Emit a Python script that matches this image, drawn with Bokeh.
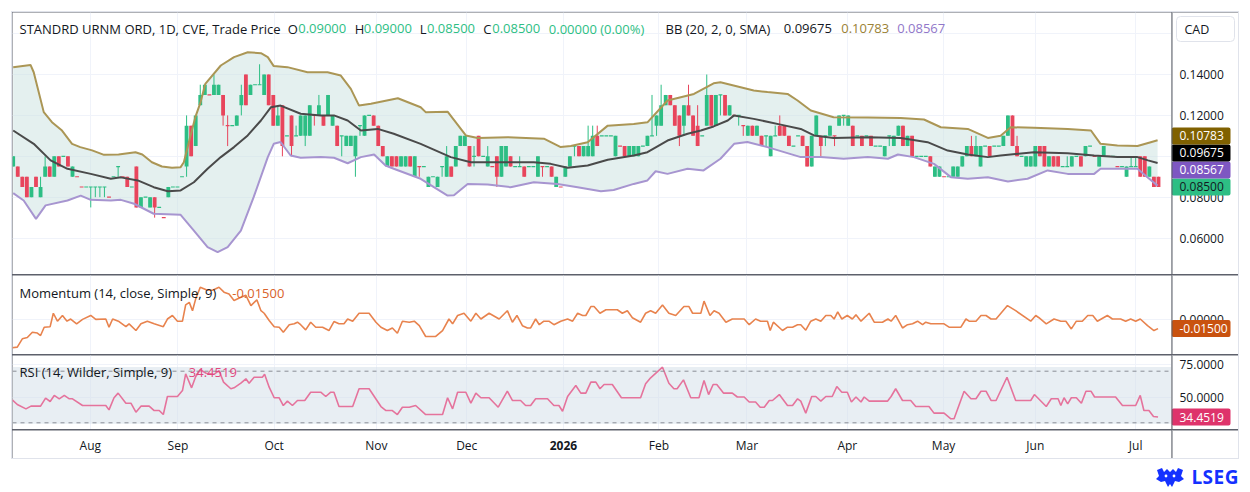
from bokeh.plotting import figure
from bokeh.models import (ColumnDataSource, FixedTicker, Label, Span, Grid, Div, BoxAnnotation, Range1d)
from bokeh.layouts import column, row
from bokeh.embed import file_html
from bokeh.resources import INLINE
from bokeh.core.properties import value

# ---------------- data ----------------
OPEN = [
.095,.095,.090,.090,.080,.090,.080,.090,.095,.090,
.100,.100,.100,.090,.090,.085,.085,.085,.085,.085,
.085,.080,.090,.095,.090,.090,.085,.095,.075,.080,
.075,.080,.075,.070,.080,.085,.085,.090,.095,.115,
.105,.125,.130,.130,.130,.130,.130,.115,.115,.115,
.125,.140,.130,.135,.135,.130,.140,.130,.115,.125,
.110,.120,.110,.110,.110,.110,.120,.120,.120,.120,
.115,.115,.110,.105,.105,.100,.115,.110,.120,.120,
.115,.105,.095,.100,.100,.095,.095,.100,.090,.095,
.095,.085,.090,.085,.095,.090,.095,.095,.105,.105,
.105,.100,.110,.100,.095,.095,.100,.090,.095,.100,
.095,.095,.095,.095,.095,.090,.095,.095,.095,.085,
.085,.090,.095,.105,.105,.100,.100,.100,.110,.110,
.110,.110,.100,.105,.105,.100,.100,.100,.105,.105,
.110,.115,.115,.125,.130,.125,.120,.115,.125,.120,
.115,.110,.115,.130,.115,.130,.130,.120,.120,.120,
.115,.110,.115,.110,.110,.110,.100,.110,.115,.115,
.110,.105,.110,.110,.105,.095,.110,.110,.110,.110,
.110,.115,.120,.115,.115,.110,.110,.110,.110,.105,
.105,.100,.110,.105,.110,.115,.105,.110,.100,.100,
.100,.100,.090,.090,.090,.090,.090,.090,.095,.100,
.105,.100,.095,.105,.105,.105,.105,.105,.110,.120,
.105,.100,.095,.095,.095,.105,.105,.095,.100,.100,
.095,.095,.095,.100,.100,.100,.105,.100,.095,.100,
.100,.100,.095,.095,.090,.095,.095,.100,.100,.090,
.090,.090]

HIGH = [
.100,.095,.090,.090,.085,.090,.090,.100,.095,.100,
.100,.100,.100,.095,.090,.085,.085,.085,.085,.085,
.085,.080,.090,.095,.090,.090,.085,.095,.080,.080,
.080,.080,.075,.070,.085,.085,.085,.090,.120,.115,
.120,.135,.135,.130,.140,.135,.130,.120,.115,.120,
.135,.140,.135,.135,.145,.140,.140,.130,.125,.125,
.110,.120,.115,.120,.120,.125,.120,.130,.120,.130,
.120,.115,.110,.110,.110,.110,.115,.120,.120,.120,
.115,.105,.100,.100,.100,.100,.100,.100,.100,.095,
.095,.090,.090,.090,.095,.105,.095,.105,.110,.110,
.105,.105,.110,.100,.105,.095,.100,.105,.105,.100,
.095,.100,.095,.095,.095,.100,.095,.095,.095,.090,
.085,.095,.100,.105,.105,.105,.115,.115,.115,.110,
.110,.110,.110,.105,.105,.105,.105,.105,.105,.110,
.130,.120,.135,.130,.130,.125,.120,.125,.135,.120,
.125,.110,.140,.130,.130,.130,.130,.125,.120,.120,
.115,.115,.115,.115,.110,.110,.110,.115,.120,.115,
.110,.105,.110,.110,.105,.110,.120,.110,.110,.115,
.110,.120,.120,.120,.115,.110,.110,.110,.110,.105,
.105,.105,.110,.110,.115,.115,.110,.110,.100,.100,
.100,.100,.095,.095,.090,.090,.095,.095,.100,.105,
.110,.110,.105,.105,.105,.105,.105,.110,.120,.120,
.110,.100,.100,.100,.105,.105,.105,.100,.100,.100,
.095,.100,.100,.100,.100,.105,.105,.100,.100,.105,
.100,.100,.095,.095,.095,.100,.100,.100,.100,.095,
.090,.090]

LOW = [
.095,.090,.085,.080,.080,.085,.080,.090,.090,.090,
.095,.100,.095,.090,.090,.085,.085,.075,.080,.080,
.080,.080,.090,.090,.090,.085,.085,.075,.075,.080,
.075,.070,.075,.070,.080,.085,.085,.090,.090,.100,
.105,.125,.130,.130,.130,.130,.115,.105,.115,.115,
.120,.125,.130,.135,.135,.130,.125,.115,.115,.100,
.110,.100,.110,.110,.105,.110,.115,.120,.115,.120,
.115,.105,.100,.105,.105,.090,.110,.110,.120,.115,
.105,.100,.095,.095,.095,.095,.095,.095,.090,.090,
.095,.085,.090,.085,.090,.090,.090,.095,.105,.105,
.095,.095,.100,.100,.095,.095,.085,.090,.095,.095,
.095,.095,.090,.095,.095,.090,.090,.095,.090,.085,
.085,.090,.095,.100,.100,.100,.100,.100,.105,.110,
.110,.110,.100,.105,.100,.100,.100,.100,.105,.105,
.110,.110,.115,.125,.125,.115,.105,.110,.120,.110,
.105,.110,.115,.115,.115,.120,.120,.120,.120,.115,
.110,.110,.110,.110,.105,.105,.100,.110,.110,.110,
.105,.105,.110,.105,.095,.095,.110,.100,.105,.110,
.105,.115,.115,.115,.105,.110,.105,.110,.105,.105,
.105,.100,.105,.105,.110,.105,.105,.100,.100,.100,
.100,.095,.090,.090,.090,.090,.090,.090,.095,.100,
.100,.100,.095,.105,.100,.105,.105,.105,.110,.105,
.100,.100,.095,.095,.095,.100,.095,.095,.095,.095,
.095,.095,.095,.100,.095,.100,.105,.100,.095,.100,
.100,.100,.095,.095,.090,.095,.095,.090,.090,.090,
.085,.085]

CLOSE = [
.100,.090,.085,.080,.085,.085,.085,.095,.090,.100,
.095,.100,.095,.095,.090,.085,.085,.085,.085,.085,
.085,.080,.090,.095,.090,.085,.085,.075,.080,.080,
.080,.075,.075,.070,.085,.085,.085,.090,.115,.100,
.120,.130,.135,.130,.135,.135,.120,.115,.115,.120,
.130,.125,.135,.135,.135,.140,.125,.115,.120,.105,
.110,.105,.110,.120,.120,.125,.120,.125,.115,.130,
.120,.105,.110,.110,.110,.110,.115,.120,.120,.115,
.105,.100,.100,.095,.095,.100,.100,.095,.100,.095,
.095,.090,.090,.090,.095,.100,.090,.105,.110,.110,
.095,.100,.100,.100,.100,.095,.090,.105,.105,.095,
.095,.095,.090,.095,.095,.100,.095,.095,.090,.090,
.085,.095,.100,.105,.100,.105,.105,.110,.105,.110,
.110,.110,.110,.105,.100,.105,.105,.105,.105,.110,
.110,.120,.125,.130,.125,.115,.110,.125,.120,.110,
.105,.110,.130,.115,.130,.130,.120,.125,.120,.120,
.115,.115,.110,.115,.105,.110,.110,.110,.110,.110,
.105,.105,.110,.105,.095,.110,.120,.105,.110,.115,
.110,.120,.120,.120,.105,.110,.105,.110,.105,.105,
.105,.105,.110,.110,.115,.105,.110,.100,.100,.100,
.100,.095,.095,.095,.090,.090,.095,.095,.100,.105,
.100,.105,.105,.105,.100,.105,.105,.110,.120,.105,
.100,.100,.100,.100,.105,.100,.095,.100,.095,.095,
.095,.095,.100,.100,.095,.105,.105,.100,.100,.105,
.100,.100,.095,.095,.095,.095,.095,.090,.090,.095,
.085,.085]

# Bollinger Bands (20, 2) read as (bar, value)
BB_UPPER = [(0,0.1436),(3.8,0.1447),(4.5,0.1411),(6.7,0.1216),(8.5,0.1167),(10.7,0.1126),
    (12.9,0.1061),(14.7,0.1045),(17.3,0.1029),(19.9,0.1007),(23.1,0.1009),(26.8,0.1020),
    (28.3,0.1009),(30.4,0.0971),(32.6,0.0950),(34.8,0.0944),(36.7,0.0947),(37.4,0.0971),
    (38.5,0.1069),(39.9,0.1190),(41,0.1260),(42.1,0.1354),(45.5,0.1444),(48.4,0.1485),
    (51.4,0.1509),(54.3,0.1504),(55.8,0.1485),(57.1,0.1441),(60.1,0.1436),(64.5,0.1411),
    (68.9,0.1411),(71.8,0.1395),(74,0.1330),(75.8,0.1248),(78.4,0.1257),(84.3,0.1284),
    (89.3,0.1240),(90.4,0.1216),(95.2,0.1218),(99.2,0.1102),(101.8,0.1090),(108.4,0.1093),
    (116.3,0.1086),(120,0.1045),(122.2,0.1050),(125.9,0.1069),(130.3,0.1150),(136,0.1158),
    (139,0.1166),(143.4,0.1273),(149.2,0.1305),(153.5,0.1357),(155,0.1362),(162.3,0.1322),
    (165.3,0.1314),(169.7,0.1305),(171.9,0.1273),(174.8,0.1224),(179.8,0.1191),(187.3,0.1190),
    (194.5,0.1187),(199.6,0.1180),(203.3,0.1142),(209.2,0.1134),(213.6,0.1090),(216.4,0.1101),
    (218.6,0.1142),(223.7,0.1140),(231.1,0.1134),(236.2,0.1126),(238.3,0.1061),(242,0.1053),
    (246.4,0.1050),(249.3,0.1069),(250.8,0.10783)]
BB_MID = [(0,0.1126),(4.5,0.1061),(8.2,0.0980),(11.9,0.0939),(17,0.0914),(21.4,0.0890),
    (23.6,0.0897),(27.3,0.0882),(30.8,0.0849),(33.9,0.0829),(36.7,0.0833),(39.6,0.0873),
    (42.6,0.0939),(45.5,0.0996),(48.4,0.1045),(51.4,0.1102),(54.3,0.1175),(56.5,0.1240),
    (58.6,0.1248),(63,0.1208),(67.4,0.1200),(70.3,0.1200),(73.3,0.1175),(76.2,0.1126),
    (79.9,0.1134),(83.4,0.1110),(89.3,0.1061),(95.9,0.0996),(100.3,0.0971),(105.3,0.0971),
    (114.1,0.0971),(117.8,0.0963),(121.5,0.0944),(125.9,0.0955),(130.3,0.0983),(136,0.1004),
    (139,0.1020),(143.4,0.1077),(147.8,0.1110),(150.7,0.1126),(153.5,0.1146),(156.6,0.1175),
    (158,0.1200),(162.3,0.1183),(168.2,0.1155),(172.6,0.1134),(175.5,0.1102),(179.8,0.1090),
    (187.3,0.1093),(194.5,0.1090),(200.4,0.1069),(204.8,0.1028),(209.2,0.1009),(213.6,0.0996),
    (216.4,0.1004),(223.7,0.1020),(231.1,0.1015),(236.9,0.1004),(242,0.0996),(246.4,0.0996),
    (248.7,0.0980),(250.8,0.09675)]
BB_LOWER = [(0,0.0820),(2.3,0.0784),(5,0.0694),(7.1,0.0760),(11.9,0.0784),(14.8,0.0808),
    (17,0.0787),(21.4,0.0784),(23.6,0.0787),(26.5,0.0768),(30.8,0.0719),(36.7,0.0714),
    (39.6,0.0637),(42.6,0.0556),(44.8,0.0531),(47,0.0556),(49.9,0.0637),(52.7,0.0800),
    (55.8,0.0996),(57.1,0.1061),(58.6,0.1070),(60.8,0.1004),(63,0.0993),(67.4,0.0996),
    (70.3,0.0993),(73.3,0.0966),(76.2,0.0996),(79.1,0.1009),(81.6,0.0955),(83.4,0.0939),
    (89.3,0.0890),(92.2,0.0849),(95.2,0.0808),(96.6,0.0810),(99.6,0.0865),(104,0.0862),
    (109,0.0849),(114.1,0.0873),(119.3,0.0865),(123.7,0.0849),(128.8,0.0829),(131.6,0.0835),
    (136,0.0865),(139,0.0882),(140.8,0.0927),(143.4,0.0914),(147.8,0.0939),(151.3,0.0931),
    (155,0.0988),(158,0.1061),(160.9,0.1070),(165.3,0.1045),(172.6,0.0996),(177,0.0996),
    (182,0.0988),(187.3,0.0996),(191.7,0.0988),(193.9,0.1009),(197.4,0.0996),(201.8,0.0963),
    (205.5,0.0898),(209.2,0.0890),(213.6,0.0898),(218,0.0877),(222.3,0.0890),(226.7,0.0931),
    (231.1,0.0914),(236.9,0.0914),(238.3,0.0939),(244.2,0.0939),(246.4,0.0939),(248.7,0.0895),
    (250.8,0.08567)]

# Momentum (14) read as (bar, value)
MOMENTUM = [(-0.2,-0.045),(0.9,-0.044),(2,-0.031),(3.1,-0.029),(4.2,-0.0206),(5.3,-0.022),
    (6,-0.0258),(6.8,-0.0128),(8.1,-0.012),(8.8,0.009),(9.7,-0.0034),(10.8,0.0055),(11.8,-0.0034),
    (12.6,0),(13.9,-0.0075),(15.2,-0.0006),(17,0.0055),(18.1,-0.0005),(20.3,0),(21,-0.0128),
    (21.8,0),(23.2,-0.004),(24.7,-0.012),(25.4,-0.0075),(26.9,-0.018),(28,-0.0075),(29.4,-0.0034),
    (30.9,-0.0075),(32.9,-0.012),(33.8,0),(34.9,0.0055),(36,-0.0034),(37.1,-0.0034),(37.8,0.022),
    (38.6,0.026),(39.3,0.013),(40,0.0315),(41,0.0497),(42.3,0.0456),(43.7,0.045),(45.1,0.0497),
    (46.2,0.042),(47.3,0.039),(48.4,0.029),(49.9,0.034),(51,0.037),(52.1,0.021),(53.4,0.030),
    (54.3,0.013),(55,0.009),(56.1,-0.0023),(57.2,-0.012),(58.3,-0.0128),(59.2,-0.0206),
    (60.5,-0.009),(61.6,-0.0075),(62.3,-0.005),(63,-0.0089),(64.1,-0.017),(65.2,-0.005),
    (66.3,-0.0128),(67.8,-0.0128),(69.2,-0.018),(70.3,-0.004),(71.4,-0.0075),(72.5,-0.0075),
    (73.3,0),(74.4,-0.0034),(75.8,0.009),(78,0.009),(79.5,-0.005),(80.6,-0.0128),(82,-0.018),
    (83.1,-0.014),(84.2,-0.0222),(85.3,-0.0034),(86.8,-0.005),(87.9,-0.0034),(89,-0.0104),
    (90.4,-0.0273),(92.6,-0.0273),(94.1,-0.018),(95.5,0),(96.3,-0.0075),(97.4,0.0055),
    (98.8,0.009),(100.3,-0.0034),(101.4,0.009),(102.5,0),(104.3,0.009),(106.5,0),(108.3,0.013),
    (109.4,-0.005),(110.4,0.0055),(111.6,-0.0104),(112.7,-0.014),(113.4,-0.014),(114.5,0),
    (115.3,-0.0089),(116.3,-0.0034),(117.4,-0.0034),(118.5,-0.0089),(120,-0.0034),(121.5,0),
    (122.6,-0.0034),(123.7,0.009),(124.8,0.0055),(125.5,0.0055),(126.6,0.0195),(127.3,0.0195),
    (128.6,0.009),(129.9,0.0145),(132.4,0.0145),(133.5,0.009),(134.6,0.013),(135.7,0.002),
    (137.5,-0.005),(138.6,0.009),(139.7,0.013),(140.8,0.009),(142.3,0.022),(143.7,0.009),
    (145.2,0.0055),(147,0.0195),(148.1,0.0195),(148.9,0.009),(150.7,0.009),(151.4,0.028),
    (152.7,0.0055),(153.6,0.013),(154.7,0.009),(156.2,-0.005),(157.6,0),(160.2,0),(161.3,-0.0089),
    (162.7,0),(163.8,-0.0034),(165.3,-0.0034),(165.9,-0.018),(166.6,-0.005),(168.6,-0.018),
    (169.7,-0.0128),(170.8,-0.0128),(171.9,-0.0089),(172.6,-0.0089),(173.7,-0.0175),
    (174.8,-0.0034),(175.9,0),(177,-0.0034),(178.1,0.0055),(179.2,0.0055),(179.9,0),(180.7,0.011),
    (181.6,0),(182.8,0.0055),(183.9,0),(184.7,0.0065),(185.8,-0.0034),(187.6,0.009),(188.7,-0.005),
    (190.5,-0.005),(191.7,0),(192.4,-0.0034),(193.4,0.0055),(194.9,-0.014),(196,-0.0089),
    (197.1,-0.0075),(198.2,-0.0034),(199.3,-0.0089),(200,-0.005),(201.1,-0.0075),(204,-0.0075),
    (205.1,-0.0128),(207.7,-0.0128),(208.8,0),(209.5,-0.0034),(211,-0.0034),(212.1,0.0055),
    (213.2,0.0055),(214.3,0),(215.4,0),(217.9,0.021),(219.7,0.013),(223,-0.0034),(224.1,0.0055),
    (224.8,0.002),(226.4,-0.0075),(228.1,0),(229.6,-0.0034),(230.7,-0.0034),(231.9,-0.0155),
    (233,-0.0034),(234.3,-0.0034),(235.5,0.0055),(236.6,0.0055),(237.6,-0.0034),(239.8,0.0055),
    (240.9,0),(242.7,0),(243.8,-0.0034),(244.9,0),(246,-0.0034),(247,0),(248.6,-0.0104),
    (250,-0.018),(250.9,-0.015)]

# RSI (14) read as (bar, value)
RSI = [(-0.2,47.8),(0.9,44.2),(2.8,40.8),(3.9,42.9),(6,42.9),(7.1,49.1),(8.1,46.5),(9,51.2),
    (10.1,48.6),(11.2,51.2),(12.3,48.6),(13,48.6),(15.2,43.4),(20.3,43.4),(21,40),(22.1,49.4),
    (23,53),(24.7,45.2),(25.8,45.2),(26.9,38.2),(28,42.9),(29.8,42.9),(30.9,39.5),(32,39.5),
    (32.9,36.4),(33.8,50.4),(36,50.4),(37.1,55),(37.8,68),(39.1,57.1),(40,65.9),(41,71.1),
    (42.3,68.4),(44,67.6),(45.1,70.5),(46.1,61.5),(47.7,56.4),(48.4,57.1),(49.9,60.7),(51,64.1),
    (51.7,60.7),(52.8,65.3),(54.6,65.3),(55.1,67.6),(56.1,57.6),(57.2,49.4),(58.3,49.4),
    (59.2,43.4),(60.1,46.8),(61.2,43.4),(62.3,47.3),(63.9,47.3),(65.2,53.7),(67.4,53.7),
    (68.5,50.4),(69.6,53.7),(70.3,53.7),(71.4,42.6),(74.4,42.6),(75.8,56.4),(78,56.4),(80.6,42.6),
    (81.7,39.5),(83.1,39.5),(84.2,36.4),(85.3,42.1),(86.8,42.1),(88.2,43.4),(90.4,36.4),
    (94.1,36.4),(95.2,49.4),(96.3,40.8),(97.4,53.7),(99.2,53.7),(100.3,45.2),(101.4,53),
    (102.5,49.4),(104.3,49.4),(106.3,42.1),(108.3,54.5),(109.4,47.3),(111.2,47.3),(112.3,43.4),
    (113.4,43.4),(114.5,48.6),(117.1,48.6),(118.5,43.4),(119.6,43.4),(120.4,39),(121.5,50.4),
    (123.3,58.9),(124.4,53),(125.5,53),(126.6,61.5),(127.7,61.5),(128.6,56.4),(129.5,59.7),
    (131.3,59.7),(133.3,49.4),(137.5,49.4),(138.6,60.2),(139.7,64.9),(142.3,73.1),(143.7,60.7),
    (144.8,56.4),(145.5,56.4),(146.9,63.3),(148.5,49.4),(150.3,49.4),(151.4,62.8),(152.4,51.9),
    (153.4,59.7),(154.2,59.7),(155.7,53),(157.6,53),(158.7,50),(160.2,50),(161.3,46.1),
    (162.7,46.1),(163.7,42.1),(164.6,42.1),(165.7,47.3),(166.4,47.3),(167.9,51.9),(169.7,43.4),
    (170.8,43.4),(171.9,48.6),(172.6,46.8),(173.7,37.5),(175,50.4),(175.9,50.4),(177,46.8),
    (178.1,50.4),(179.5,50.4),(180.5,58.1),(181.6,53.7),(182.8,53.7),(183.7,46.1),(184.7,50),
    (185.8,46.1),(186.5,50),(187.6,46.8),(191.6,46.8),(192.4,50.4),(193.4,56.4),(194.9,47.3),
    (196.7,47.3),(197.8,42.6),(200.7,42.6),(201.8,37.5),(204,37.5),(205.5,33.1),(206.2,33.1),
    (208.4,54.5),(209.9,48.6),(211,48.6),(212.1,54.5),(213.2,54.5),(214.3,47.3),(215.4,47.3),
    (217.8,65.3),(219.7,47.3),(223,47.3),(223.8,51.9),(226.4,42.6),(227.5,48.6),(229,48.6),
    (229.6,43.4),(230.3,49.4),(231.1,44.7),(231.9,49.4),(233,49.4),(234.1,45.2),(235.1,54.5),
    (236.2,54.5),(237,50),(241.6,50),(243.1,43.4),(246,43.4),(247,51.2),(247.8,39.5),(248.9,39.5),
    (249.9,34.9),(250.9,34.4519)]

MONTH_TICKS = [16.9, 36.1, 57.2, 79.6, 99.4, 120.6, 141.5, 160.8, 182.8, 203.9, 224.0, 246.0]
MONTH_LABELS = ["Aug", "Sep", "Oct", "Nov", "Dec", "2026", "Feb", "Mar", "Apr", "May", "Jun", "Jul"]
PRICE_TICKS = [0.06, 0.08, 0.10, 0.12, 0.14, 0.16]
MOM_TICKS = [0.0]
RSI_TICKS = [50, 75]
RSI_BANDS = (30, 70)

# ---------------- styling / layout ----------------
FONT = "Open Sans"
TXT = "#131722"
UP = "#2dbe84"
DOWN = "#e8455c"
GRID = "#f0f3fa"
SEP = "#5d606b"
C_UPPER, C_MID, C_LOWER = "#ab9655", "#4a4a4a", "#a795d0"
C_MOM, C_RSI = "#e8834e", "#e5739c"

FRAME_W = 1159
RIGHT_W = 67
xr = Range1d(-0.15, 253.85)


def bare(fig):
    fig.outline_line_color = None
    fig.background_fill_color = "white"
    fig.border_fill_color = "white"
    for g in list(fig.xgrid) + list(fig.ygrid):
        g.visible = False
    return fig


def main_fig(h, yr, ticks):
    p = figure(width=FRAME_W, height=h, x_range=xr, y_range=yr, output_backend="svg",
               toolbar_location=None, x_axis_location=None, y_axis_location=None,
               min_border_left=0, min_border_right=0, min_border_top=0, min_border_bottom=0)
    bare(p)
    p.add_layout(Grid(dimension=0, ticker=FixedTicker(ticks=MONTH_TICKS),
                      grid_line_color=GRID, level="underlay"))
    if ticks:
        p.add_layout(Grid(dimension=1, ticker=FixedTicker(ticks=ticks),
                          grid_line_color=GRID, level="underlay"))
    return p


def side_fig(h, yr, ticks=None, fmt="{:.5f}"):
    s = figure(width=RIGHT_W, height=h, x_range=Range1d(0, RIGHT_W), y_range=yr,
               output_backend="svg", toolbar_location=None, x_axis_location=None,
               y_axis_location=None, min_border_left=0, min_border_right=0,
               min_border_top=0, min_border_bottom=0)
    bare(s)
    s.add_layout(Span(location=0.5, dimension="height", line_color=SEP, line_width=1))
    if ticks:
        s.text(x=8, y=ticks, text=[fmt.format(t) for t in ticks], text_font=value(FONT),
               text_font_size="12px", text_color=TXT, text_baseline="middle", text_align="left")
    return s


def txt(fig, x, y, text, color=TXT, size="13px"):
    fig.add_layout(Label(x=x, y=y, x_units="screen", y_units="screen", text=text,
                         text_color=color, text_font=FONT, text_font_size=size,
                         text_baseline="middle", text_align="left"))


def value_box(s, y, text, bg, fg):
    kw = dict(x=29.5, y=y, width=59, height=17, height_units="screen", fill_color=bg,
              line_color=None)
    try:
        s.rect(border_radius=2, **kw)
    except Exception:
        s.rect(**kw)
    s.text(x=8, y=y, text=[text], text_font=value(FONT), text_font_size="12px",
           text_color=fg, text_baseline="middle", text_align="left")


# ---------------- price pane ----------------
P_LO, P_HI = 0.0422, 0.17032
PRICE_H = 262
yr1 = Range1d(P_LO, P_HI)
p1 = main_fig(PRICE_H, yr1, PRICE_TICKS)
s1 = side_fig(PRICE_H, yr1, PRICE_TICKS)

ub = [b for b, v in BB_UPPER]; uv = [v for b, v in BB_UPPER]
mb = [b for b, v in BB_MID]; mv = [v for b, v in BB_MID]
lb = [b for b, v in BB_LOWER]; lv = [v for b, v in BB_LOWER]
p1.patch(ub + lb[::-1], uv + lv[::-1], fill_color="#c9e1df", fill_alpha=0.5, line_color=None)

N = len(CLOSE)
assert len(OPEN) == len(HIGH) == len(LOW) == N
idx = list(range(N))
colors = []
for i in range(N):
    o, c = OPEN[i], CLOSE[i]
    if c > o:
        up = True
    elif c < o:
        up = False
    else:
        up = i == 0 or c >= CLOSE[i - 1]
    colors.append(UP if up else DOWN)

src = ColumnDataSource(dict(x=idx, h=HIGH, l=LOW, lo=[min(a, b) for a, b in zip(OPEN, CLOSE)],
                            hi=[max(a, b) for a, b in zip(OPEN, CLOSE)], col=colors))
p1.segment(x0="x", y0="l", x1="x", y1="h", line_color="col", line_width=1, source=src)
p1.vbar(x="x", width=0.84, bottom="lo", top="hi", fill_color="col", line_color=None, source=src)
doji = [i for i in idx if OPEN[i] == CLOSE[i]]
dsrc = ColumnDataSource(dict(x=doji, y=[CLOSE[i] for i in doji], col=[colors[i] for i in doji]))
p1.rect(x="x", y="y", width=0.84, height=1.2, height_units="screen", fill_color="col",
        line_color=None, source=dsrc)

p1.line(ub, uv, line_color=C_UPPER, line_width=2)
p1.line(mb, mv, line_color=C_MID, line_width=2)
p1.line(lb, lv, line_color=C_LOWER, line_width=2)

# header
HY = PRICE_H - 16
txt(p1, 7, HY, "STANDRD URNM ORD, 1D, CVE, Trade Price")
chg = CLOSE[-1] - CLOSE[-2]
pct = chg / CLOSE[-2] * 100
txt(p1, 275.3, HY, "O"); txt(p1, 285.7, HY, f"{OPEN[-1]:.5f}", UP)
txt(p1, 342.3, HY, "H"); txt(p1, 351.3, HY, f"{HIGH[-1]:.5f}", UP)
txt(p1, 407.3, HY, "L"); txt(p1, 414.5, HY, f"{LOW[-1]:.5f}", UP)
txt(p1, 470.7, HY, "C"); txt(p1, 479.7, HY, f"{CLOSE[-1]:.5f}", UP)
txt(p1, 536.3, HY, f"{abs(chg):.5f} ({abs(pct):.2f}%)", UP)
txt(p1, 653, HY, "BB (20, 2, 0, SMA)")
txt(p1, 771.3, HY, f"{mv[-1]:.5f}")
txt(p1, 828.7, HY, f"{uv[-1]:.5f}", "#9b8235")
txt(p1, 884.7, HY, f"{lv[-1]:.5f}", "#9177c9")

# currency box in the scale column
ppp = PRICE_H / (P_HI - P_LO)           # pixels per price unit
cad_y = P_HI - 16.5 / ppp
kw = dict(x=34, y=cad_y, width=58, height=25, height_units="screen", fill_color="white",
          line_color="#e0e3eb", line_width=1)
try:
    s1.rect(border_radius=4, **kw)
except Exception:
    s1.rect(**kw)
s1.text(x=13, y=cad_y, text=["CAD"], text_font=value(FONT), text_font_size="12.5px",
        text_color=TXT, text_baseline="middle", text_align="left")

# last-value boxes, pushed apart so they do not overlap
gap = 17 / ppp
items = sorted([(CLOSE[-1], UP, TXT), (lv[-1], "#7e57c2", "white"),
                (mv[-1], "#000000", "white"), (uv[-1], "#806100", "white")], key=lambda t: t[0])
prev = None
for v, bg, fg in items:
    pos = v if prev is None else max(v, prev + gap)
    prev = pos
    value_box(s1, pos, f"{v:.5f}", bg, fg)

# ---------------- momentum pane ----------------
MOM_H = 79
yr2 = Range1d(-0.05547, 0.0680)
p2 = main_fig(MOM_H, yr2, MOM_TICKS)
s2 = side_fig(MOM_H, yr2, MOM_TICKS)
p2.line([b for b, v in MOMENTUM], [v for b, v in MOMENTUM], line_color=C_MOM, line_width=1.6)
txt(p2, 7, MOM_H - 17.7, "Momentum (14, close, Simple, 9)")
m_last = MOMENTUM[-1][1]
txt(p2, 219.7, MOM_H - 17.7, f"{m_last:.5f}", "#d9622b")
value_box(s2, m_last, f"{m_last:.5f}", "#c9520f", "white")

# ---------------- RSI pane ----------------
RSI_H = 74
yr3 = Range1d(24.81, 82.17)
p3 = main_fig(RSI_H, yr3, RSI_TICKS)
s3 = side_fig(RSI_H, yr3, RSI_TICKS, fmt="{:.4f}")
p3.add_layout(BoxAnnotation(bottom=29.3, top=73.2, fill_color="#d1dde7", fill_alpha=0.5,
                            line_color=None, level="underlay"))
for lvl in RSI_BANDS:
    p3.add_layout(Span(location=lvl, dimension="width", line_color="#8a8d96", line_width=1,
                       line_dash="4 4"))
p3.line([b for b, v in RSI], [v for b, v in RSI], line_color=C_RSI, line_width=1.6)
txt(p3, 7, RSI_H - 16.7, "RSI (14, Wilder, Simple, 9)")
r_last = RSI[-1][1]
txt(p3, 176.3, RSI_H - 16.7, f"{r_last:.4f}", "#e0497f")
value_box(s3, r_last, f"{r_last:.4f}", "#de336b", "white")

# ---------------- time scale ----------------
AX_H = 28
yr4 = Range1d(0, AX_H)
p4 = figure(width=FRAME_W, height=AX_H, x_range=xr, y_range=yr4, output_backend="svg",
            toolbar_location=None, x_axis_location=None, y_axis_location=None,
            min_border_left=0, min_border_right=0, min_border_top=0, min_border_bottom=0)
bare(p4)
p4.text(x=MONTH_TICKS, y=AX_H - 15, text=MONTH_LABELS, text_font=value(FONT),
        text_font_size="12px", text_color=TXT, text_baseline="middle", text_align="center",
        text_font_style=["bold" if l.isdigit() else "normal" for l in MONTH_LABELS])
s4 = side_fig(AX_H, yr4)

# ---------------- assemble ----------------
inner = column(row(p1, s1, spacing=0), row(p2, s2, spacing=0), row(p3, s3, spacing=0),
               row(p4, s4, spacing=0), spacing=1, margin=(11, 0, 0, 11),
               styles={"background-color": SEP, "border": "1px solid #e0e3eb"})

logo_svg = ('<svg width="30" height="22" viewBox="0 0 30 22" style="margin-right:6px">'
            '<path d="M2 3 L7 1 L9 5 L12 2 L15 5 L18 2 L21 5 L23 1 L28 3 L26 9 L29 12 '
            'L24 15 L20 14 L17 20 L15 17 L13 20 L10 14 L6 15 L1 12 L4 9 Z" fill="#1431ff"/>'
            '<circle cx="11" cy="9" r="1.4" fill="white"/><circle cx="19" cy="9" r="1.4" fill="white"/>'
            '</svg>')
footer = Div(text=('<div style="display:flex;justify-content:flex-end;align-items:center;'
                   'height:26px;width:1228px;font-family:\'Open Sans\';font-weight:700;'
                   'font-size:19px;color:#1431ff;letter-spacing:0.5px">'
                   + logo_svg + '<span>LSEG</span></div>'),
             width=1228, height=28, margin=(6, 0, 0, 11))

layout = column(inner, footer, spacing=0)
open("out.html", "w").write(file_html(layout, INLINE))
